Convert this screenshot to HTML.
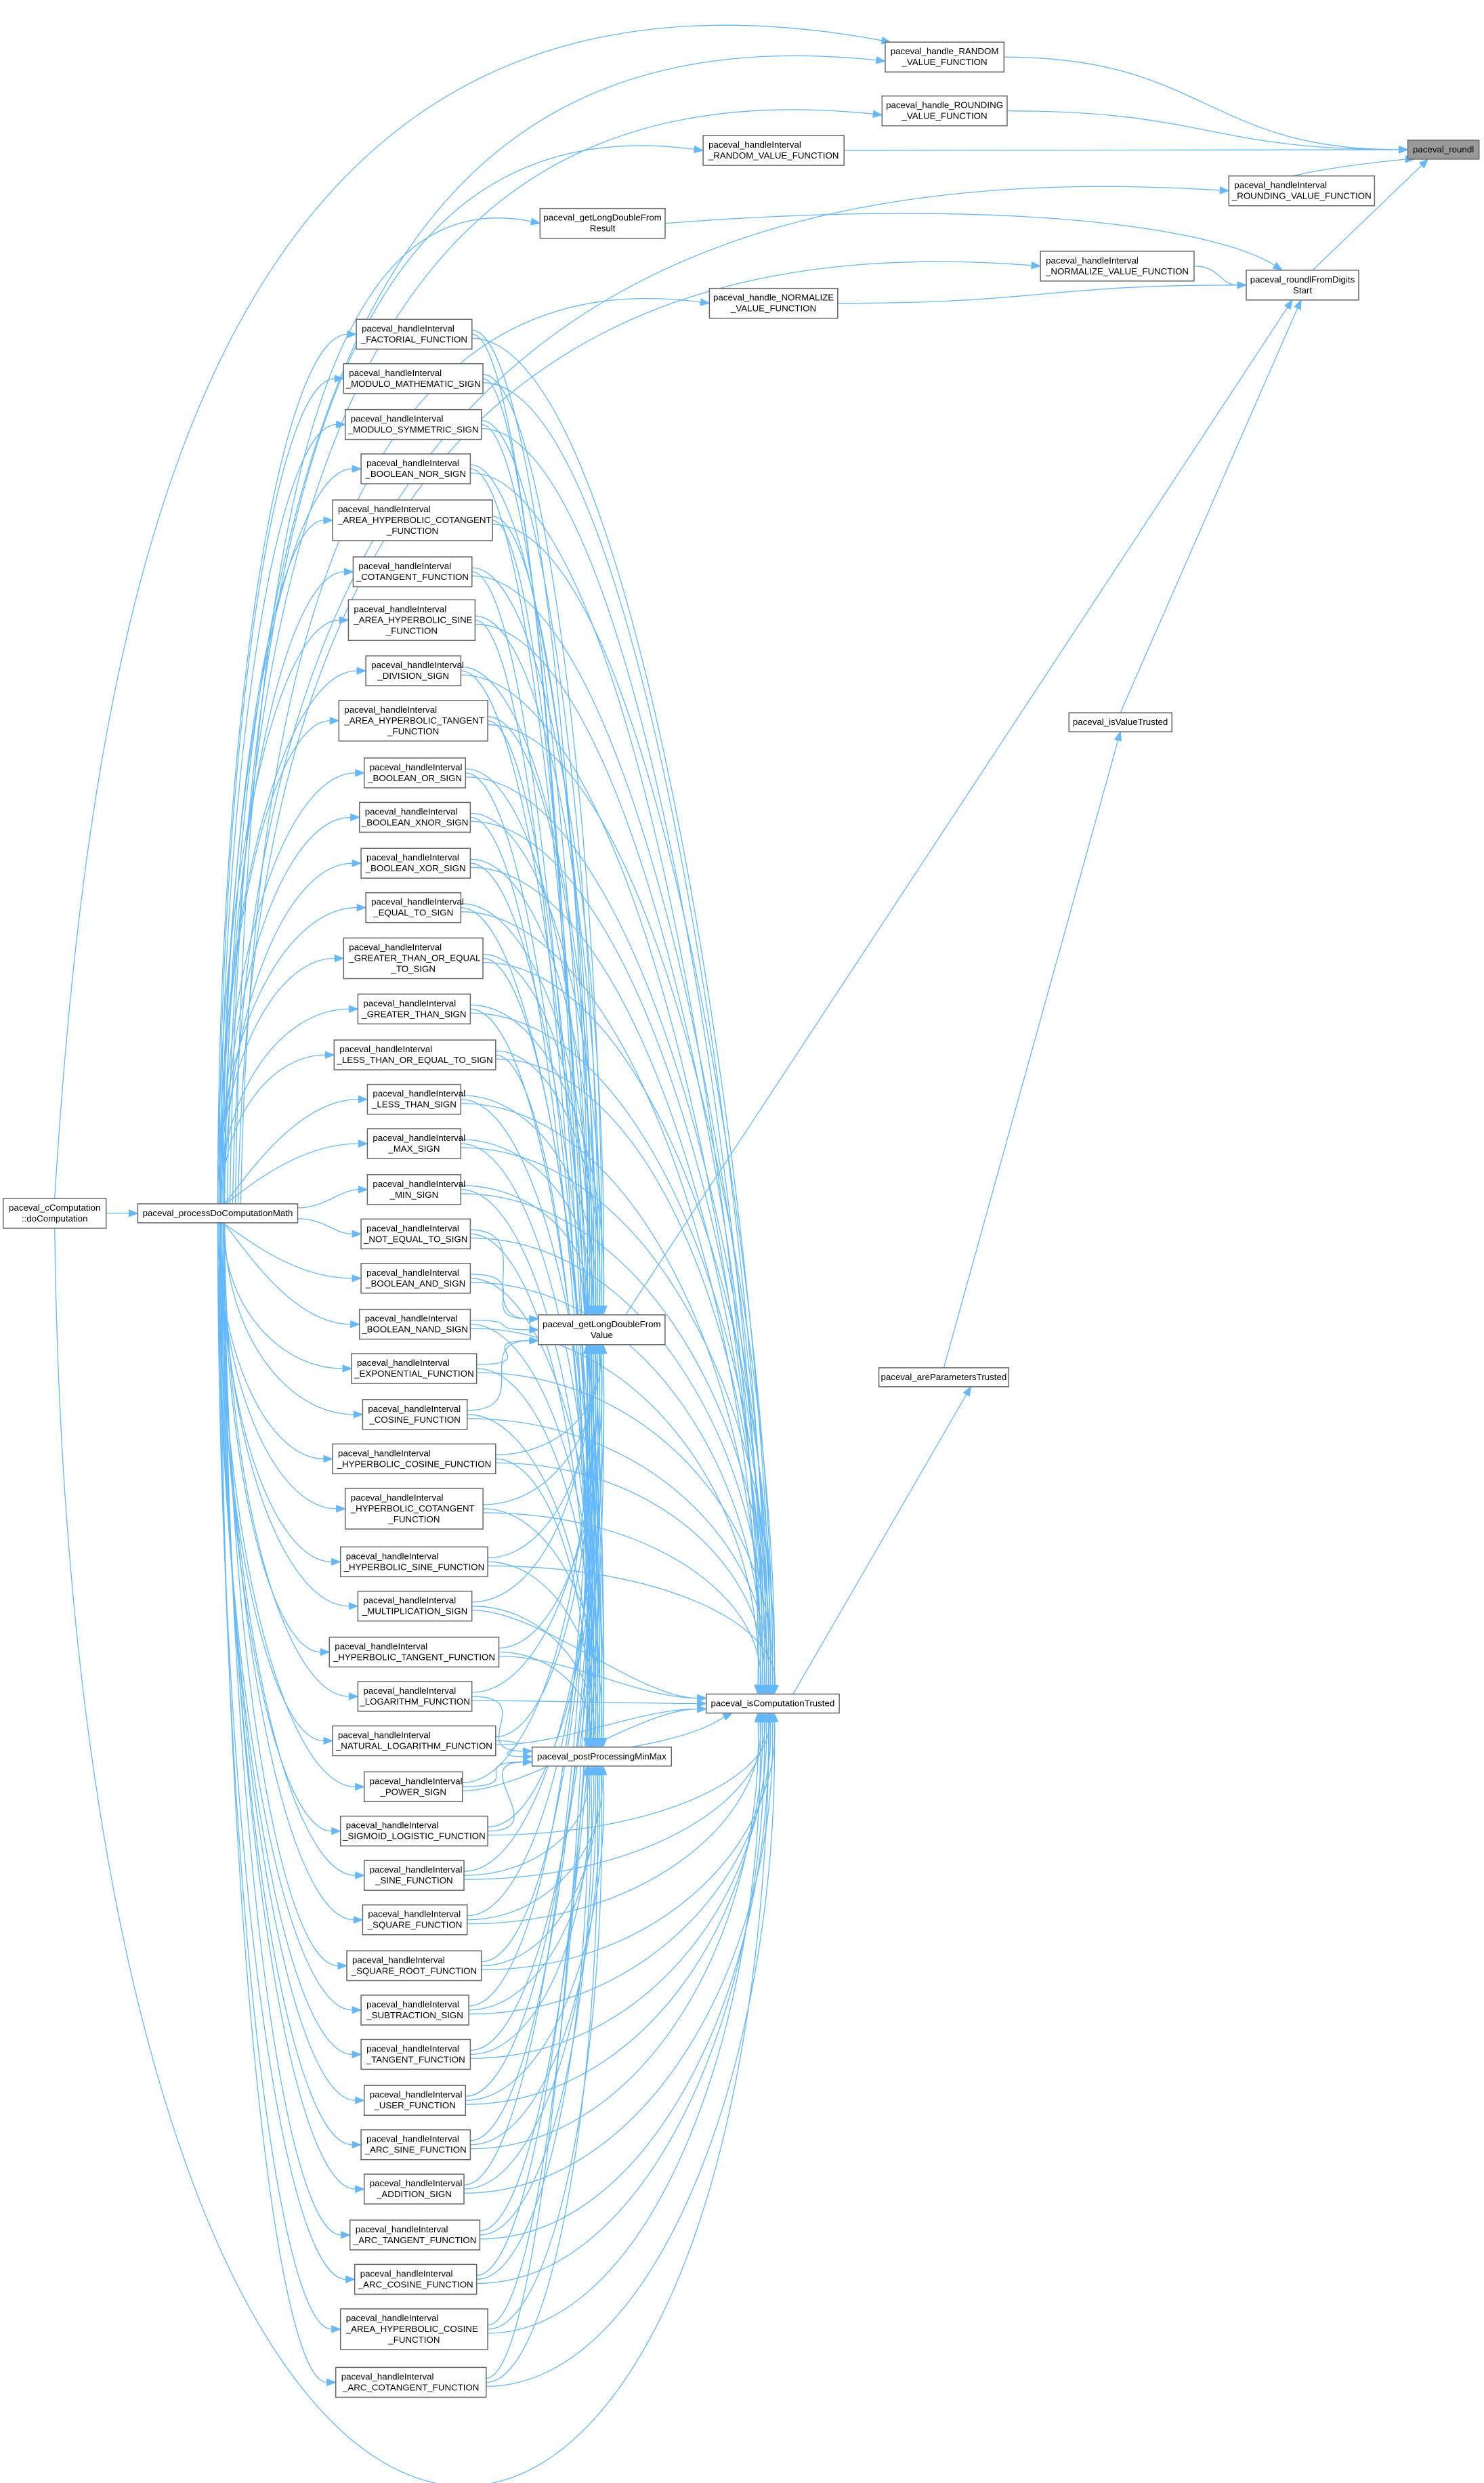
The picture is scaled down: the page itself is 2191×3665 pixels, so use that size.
<!DOCTYPE html>
<html><head><meta charset="utf-8"><style>
html,body{margin:0;padding:0;background:#fff;}
svg{display:block;}
text{font-family:"Liberation Sans",Arial,sans-serif;font-size:13.3px;fill:#000;}
</style></head><body>
<svg id="g" width="2191" height="3665" viewBox="0 0 2191 3665" xmlns="http://www.w3.org/2000/svg"></svg>
<script>
var S=2.338;
var H="paceval_handleInterval";
var N={
roundl:[889,88,934,101,["paceval_roundl"],"#999"],
rnd:[559,27,634,45,["paceval_handle_RANDOM","_VALUE_FUNCTION"]],
hrnd:[557,61,636,79,["paceval_handle_ROUNDING","_VALUE_FUNCTION"]],
irnd:[444,86,533,104,[H,"_RANDOM_VALUE_FUNCTION"]],
irou:[776,111,868,130,[H,"_ROUNDING_VALUE_FUNCTION"]],
gres:[341,131,420,151,["paceval_getLongDoubleFrom","Result"]],
inorm:[657,158,754,178,[H,"_NORMALIZE_VALUE_FUNCTION"]],
hnorm:[448,182,529,201,["paceval_handle_NORMALIZE","_VALUE_FUNCTION"]],
rfds:[787,170,858,190,["paceval_roundlFromDigits","Start"]],
ivt:[675,450,740,462,["paceval_isValueTrusted"]],
apt:[555,863,637,876,["paceval_areParametersTrusted"]],
gval:[340,829,420,850,["paceval_getLongDoubleFrom","Value"]],
ict:[446,1069,530,1082,["paceval_isComputationTrusted"]],
ppm:[336,1102,424,1116,["paceval_postProcessingMinMax"]],
cc:[2,756,67,776,["paceval_cComputation","::doComputation"]],
pdc:[87,760,188,772,["paceval_processDoComputationMath"]]
};
var L=[
[225,201,298,221,"_FACTORIAL_FUNCTION"],
[217,229,305,249,"_MODULO_MATHEMATIC_SIGN"],
[218,258,304,278,"_MODULO_SYMMETRIC_SIGN"],
[228,286,297,306,"_BOOLEAN_NOR_SIGN"],
[210,314,311,343,"_AREA_HYPERBOLIC_COTANGENT|_FUNCTION"],
[223,351,298,371,"_COTANGENT_FUNCTION"],
[220,379,300,404,"_AREA_HYPERBOLIC_SINE|_FUNCTION"],
[231,414,291,433,"_DIVISION_SIGN"],
[214,442,308,468,"_AREA_HYPERBOLIC_TANGENT|_FUNCTION"],
[230,478,294,498,"_BOOLEAN_OR_SIGN"],
[227,506,297,526,"_BOOLEAN_XNOR_SIGN"],
[228,535,297,555,"_BOOLEAN_XOR_SIGN"],
[231,563,291,583,"_EQUAL_TO_SIGN"],
[217,592,305,618,"_GREATER_THAN_OR_EQUAL|_TO_SIGN"],
[226,627,297,647,"_GREATER_THAN_SIGN"],
[211,656,313,676,"_LESS_THAN_OR_EQUAL_TO_SIGN"],
[232,684,291,704,"_LESS_THAN_SIGN"],
[232,712,291,732,"_MAX_SIGN"],
[232,741,291,761,"_MIN_SIGN"],
[228,769,297,789,"_NOT_EQUAL_TO_SIGN"],
[228,797,297,817,"_BOOLEAN_AND_SIGN"],
[227,826,297,846,"_BOOLEAN_NAND_SIGN"],
[222,854,301,874,"_EXPONENTIAL_FUNCTION"],
[229,883,295,903,"_COSINE_FUNCTION"],
[210,911,313,931,"_HYPERBOLIC_COSINE_FUNCTION"],
[218,939,305,966,"_HYPERBOLIC_COTANGENT|_FUNCTION"],
[215,976,308,996,"_HYPERBOLIC_SINE_FUNCTION"],
[226,1004,298,1024,"_MULTIPLICATION_SIGN"],
[208,1033,315,1053,"_HYPERBOLIC_TANGENT_FUNCTION"],
[226,1061,298,1081,"_LOGARITHM_FUNCTION"],
[210,1089,313,1109,"_NATURAL_LOGARITHM_FUNCTION"],
[230,1118,292,1138,"_POWER_SIGN"],
[215,1146,308,1166,"_SIGMOID_LOGISTIC_FUNCTION"],
[230,1174,293,1194,"_SINE_FUNCTION"],
[229,1202,295,1222,"_SQUARE_FUNCTION"],
[219,1231,304,1251,"_SQUARE_ROOT_FUNCTION"],
[228,1259,296,1279,"_SUBTRACTION_SIGN"],
[228,1287,297,1307,"_TANGENT_FUNCTION"],
[230,1316,294,1336,"_USER_FUNCTION"],
[228,1344,297,1364,"_ARC_SINE_FUNCTION"],
[230,1372,293,1392,"_ADDITION_SIGN"],
[221,1401,303,1421,"_ARC_TANGENT_FUNCTION"],
[224,1429,301,1449,"_ARC_COSINE_FUNCTION"],
[215,1457,308,1484,"_AREA_HYPERBOLIC_COSINE|_FUNCTION"],
[212,1494,307,1514,"_ARC_COTANGENT_FUNCTION"]
];
var G={};
function geo(k,d){var n=d[4].length,h=n*16+12,cy=(d[1]+d[3])/2*S;
G[k]={x1:d[0]*S,x2:d[2]*S,cy:cy,h:h,y1:cy-h/2,y2:cy+h/2,cx:(d[0]+d[2])/2*S,lines:d[4],fill:d[5]||"#fff"};}
for(var k in N)geo(k,N[k]);
L.forEach(function(d,i){geo("L"+i,[d[0],d[1],d[2],d[3],[H].concat(d[4].split("|"))]);});
var edges="",arrows="",boxes="";
var C="#63b8ff";
function f(v){return v.toFixed(1);}
function bez(p0,c1,c2,p3){
 var dx=p3[0]-c2[0],dy=p3[1]-c2[1],l=Math.sqrt(dx*dx+dy*dy)||1;dx/=l;dy/=l;
 var al=13,aw=5;var b=[p3[0]-dx*al,p3[1]-dy*al];
 edges+='<path d="M'+f(p0[0])+','+f(p0[1])+' C'+f(c1[0])+','+f(c1[1])+' '+f(c2[0])+','+f(c2[1])+' '+f(b[0])+','+f(b[1])+'"/>';
 arrows+='<polygon points="'+f(p3[0])+','+f(p3[1])+' '+f(b[0]-dy*aw)+','+f(b[1]+dx*aw)+' '+f(b[0]+dy*aw)+','+f(b[1]-dx*aw)+'"/>';
}
function side(s,t){var a=G[s],b=G[t];var p0=[a.x2,a.cy],p3=[b.x1,b.cy],m=(p0[0]+p3[0])/2;bez(p0,[m,p0[1]],[m,p3[1]],p3);}
function line(s,t,sx,tx){var a=G[s],b=G[t];var up=b.cy<a.cy;
 var p0=[sx!=null?sx:a.cx,up?a.y1:a.y2],p3=[tx!=null?tx:b.cx,up?b.y2:b.y1];
 bez(p0,[p0[0]+(p3[0]-p0[0])/3,p0[1]+(p3[1]-p0[1])/3],[p0[0]+2*(p3[0]-p0[0])/3,p0[1]+2*(p3[1]-p0[1])/3],p3);}
side("rnd","roundl");side("hrnd","roundl");side("irnd","roundl");
(function(){var a=G.irou,b=G.roundl;bez([a.x2-120,a.y1],[a.x2-60,a.y1-15],[b.x1,b.y2],[b.x1+10,b.y2]);})();
line("rfds","roundl",G.rfds.cx+15,G.roundl.x1+30);
(function(){var a=G.gres,b=G.rfds;bez([a.x2,a.cy],[1500,a.cy-40],[1800,b.y1-60],[b.cx-30,b.y1]);})();
side("inorm","rfds");side("hnorm","rfds");
line("gval","rfds",G.gval.cx+35,G.rfds.cx-15);
line("ivt","rfds",G.ivt.cx,G.rfds.cx-2);
line("apt","ivt",G.apt.cx,G.ivt.cx);
line("ict","apt",G.ict.cx+30,G.apt.cx+40);
side("cc","pdc");
var tops=["rnd","hrnd","irnd","irou","gres","inorm","hnorm"];
(function(){var b=G.rnd;var p0=[G.cc.cx,G.cc.y1],p3=[b.x1+8,b.y1];
 bez(p0,[p0[0]+60,800],[p0[0]+250,-120],p3);})();
tops.forEach(function(t,i){var b=G[t];
 var q0=[G.pdc.cx+10+i*4,G.pdc.y1];
 bez(q0,[q0[0]+15,b.cy+500],[q0[0]+(b.x1-q0[0])*0.25,b.cy-70],[b.x1,b.cy+(i<2?6:0)]);
});
bez([G.cc.cx,G.cc.y2],[110,4150],[1120,4150],[G.ict.cx-5,G.ict.y2]);
for(var i=0;i<L.length;i++){var b=G["L"+i],a=G.pdc;
 var dy=b.cy-a.cy,p0;
 if(Math.abs(dy)<60){p0=[a.x2,a.cy+(dy>0?8:-8)];bez(p0,[p0[0]+40,p0[1]],[b.x1-40,b.cy],[b.x1,b.cy]);}
 else{var up=dy<0;p0=[a.cx+(i%6)*2,up?a.y1:a.y2];
  var px=Math.abs(dy)<200?[a.x2-100,p0[1]]:[p0[0],p0[1]+dy*0.55];
  bez(p0,px,[p0[0]+(b.x1-p0[0])*0.45,b.cy],[b.x1,b.cy]);}
 ["gval","ppm","ict"].forEach(function(t,j){var T=G[t];var s=[b.x2,b.cy+(j-1)*6];
  var dyy=T.cy-b.cy,jit=((i*7+j*3)%9-4)*3;
  if(Math.abs(dyy)<40){bez(s,[s[0]+80,s[1]],[T.x1-80,T.cy],[T.x1,T.cy]);return;}
  if(Math.abs(dyy)<150){var ty=dyy>0?T.y1+6:T.y2-6;bez(s,[s[0]+100,s[1]],[T.x1-100,ty],[T.x1,ty]);return;}
  var down=dyy>0;var p3=[T.cx+jit-10,down?T.y1:T.y2];
  bez(s,[s[0]+(p3[0]-s[0])*0.6,s[1]],[p3[0]+10,p3[1]-(down?1:-1)*Math.min(Math.abs(dyy)*0.5,500)],p3);
 });
}
(function(){var a=G.ppm,b=G.ict;bez([a.x2-60,a.y1],[a.x2+50,a.y1-20],[b.cx-80,b.y2+10],[b.cx-60,b.y2]);})();
for(var k in G){var g=G[k];
 boxes+='<rect x="'+f(g.x1)+'" y="'+f(g.y1)+'" width="'+f(g.x2-g.x1)+'" height="'+g.h+'" fill="'+g.fill+'" stroke="#666" stroke-width="1.5"/>';
 var n=g.lines.length,left=g.lines[0]===H;
 g.lines.forEach(function(s,j){var y=g.cy-n*8+16*j+12;
  if(left&&(j==0||(n==3&&j==1)))boxes+='<text x="'+f(g.x1+8)+'" y="'+f(y)+'">'+s+'</text>';
  else boxes+='<text x="'+f(g.cx)+'" y="'+f(y)+'" text-anchor="middle">'+s+'</text>';});
}
document.getElementById("g").innerHTML='<g fill="none" stroke="'+C+'" stroke-width="1.3">'+edges+'</g><g fill="'+C+'" stroke="'+C+'">'+arrows+'</g>'+boxes;
</script>
</body></html>
